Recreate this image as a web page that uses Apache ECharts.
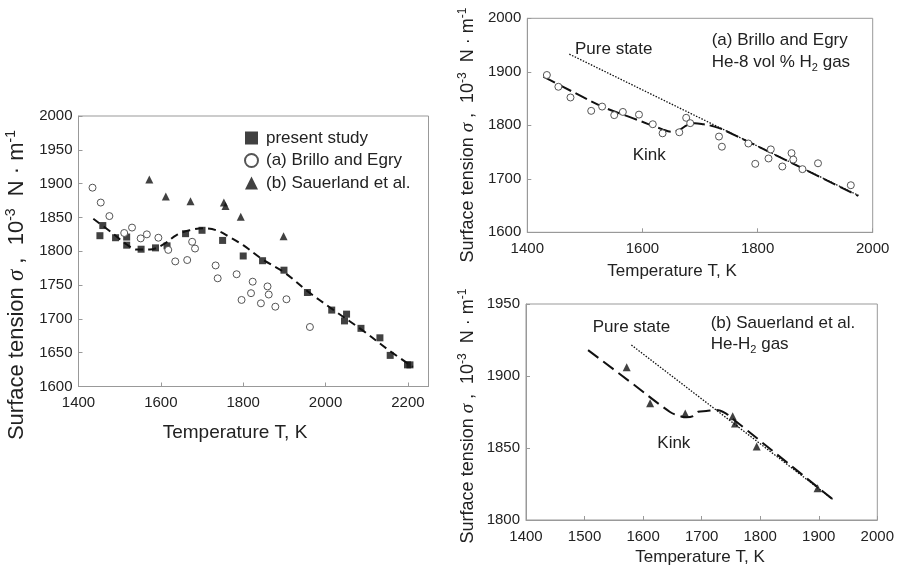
<!DOCTYPE html>
<html>
<head>
<meta charset="utf-8">
<script src="https://cdn.jsdelivr.net/npm/echarts@6/dist/echarts.min.js"></script>
<style>html,body{margin:0;padding:0;background:#fff;}#c{width:897px;height:568px;}</style>
</head>
<body>
<div id="c"></div>
<script>
// ---------- data ----------
var presentT     = [1452,1459,1490,1517,1517,1552,1587,1615,1660,1700,1750,1800,1847,1899,1956,2015,2051,2046,2086,2132,2157,2199,2205];
var presentSigma = [1823,1838,1820,1821,1809,1803,1805,1808,1826,1831,1816,1793,1786,1772,1739,1713,1707,1697,1686,1672,1646,1632,1632];

var brilloT     = [1434,1454,1475,1511,1530,1551,1566,1594,1618,1635,1664,1676,1683,1733,1738,1784,1796,1823,1819,1843,1859,1862,1878,1905,1962];
var brilloSigma = [1894,1872,1852,1827,1835,1819,1825,1820,1802,1785,1787,1814,1804,1779,1760,1766,1728,1755,1738,1723,1748,1736,1718,1729,1688];

var sauerT     = [1572,1612,1672,1753,1757,1794,1898];
var sauerSigma = [1906,1881,1874,1872,1867,1851,1822];

var fitLeftT     = [1436,1484,1517,1541,1573,1606,1638,1670,1703,1735,1767,1800,1847,1899,1956,2015,2090,2155,2212];
var fitLeftSigma = [1848,1826,1810,1802.5,1802.5,1810,1824,1831,1834,1831,1821,1809,1788,1769,1741,1715,1683,1653,1629];

var kinkAT     = [1428,1480,1530,1584,1636,1651,1665,1677,1691,1706,1720,1740,1975];
var kinkASigma = [1891,1862,1835,1813,1792,1788,1792,1800,1804,1802,1799,1792,1668];
var pureAT     = [1473,1975];
var pureASigma = [1933,1669];

var kinkBT     = [1506,1576,1646,1663,1674,1686,1694,1708,1726,1743,1754,1925];
var kinkBSigma = [1918,1896.5,1875,1872.2,1871.3,1872.2,1875.2,1875.7,1876.4,1873.6,1870,1814];
var pureBT     = [1580,1925];
var pureBSigma = [1921.5,1814];

var xTicksLeft = [1400,1600,1800,2000,2200];

function zip(a,b){ return a.map(function(v,i){ return [v,b[i]]; }); }

// ---------- styling ----------
var FONT = 'Liberation Sans, Arial, sans-serif';
var TXT = '#222';
var FRAME = '#999';

function xAx(gi,min,max,iv,hideOdd){
  return {type:'value', gridIndex:gi, min:min, max:max, interval:iv,
    axisLine:{show:true, lineStyle:{color:FRAME,width:1}},
    axisTick:{show:true, inside:true, length:4, lineStyle:{color:FRAME}},
    splitLine:{show:false},
    axisLabel:{color:TXT, fontSize:15, fontFamily:FONT, margin:9,
      formatter:function(v){ return (hideOdd && xTicksLeft.indexOf(v)<0)?'':String(v);} }};
}
function yAx(gi,min,max,iv){
  return {type:'value', gridIndex:gi, min:min, max:max, interval:iv,
    axisLine:{show:true, lineStyle:{color:FRAME,width:1}},
    axisTick:{show:true, inside:true, length:4, lineStyle:{color:FRAME}},
    splitLine:{show:false},
    axisLabel:{color:TXT, fontSize:15, fontFamily:FONT, margin:6, formatter:function(v){return String(v);}}};
}
function sq(name,gi,data){ return {name:name,type:'scatter',xAxisIndex:gi,yAxisIndex:gi,data:data,symbol:'rect',symbolSize:7,itemStyle:{color:'#111'},z:3}; }
function ci(name,gi,data){ return {name:name,type:'scatter',xAxisIndex:gi,yAxisIndex:gi,data:data,symbol:'circle',symbolSize:7,itemStyle:{color:'#fff',borderColor:'#555',borderWidth:1,opacity:1},z:3}; }
function tr(name,gi,data,sz){ return {name:name,type:'scatter',xAxisIndex:gi,yAxisIndex:gi,data:data,symbol:'triangle',symbolSize:sz||7,itemStyle:{color:'#111'},z:3}; }
function ln(gi,data,type,w,smooth){ return {type:'line',xAxisIndex:gi,yAxisIndex:gi,data:data,symbol:'none',smooth:smooth||0,lineStyle:{color:'#111',width:w,type:type},z:2,silent:true}; }

function yTitle(x,y,fs){
  var ps = Math.round(fs*0.65);
  return {type:'text', x:x, y:y, rotation:Math.PI/2, silent:true,
    style:{text:'{n|Surface tension }{s|σ}{n| ,  10}{p|-3}{n|  N · m}{p|-1}', align:'center', verticalAlign:'middle', fill:TXT,
      rich:{
        n:{fontSize:fs, fontFamily:FONT, lineHeight:fs+4, fill:TXT},
        s:{fontSize:fs+1, fontFamily:'Liberation Serif, serif', fontStyle:'italic', lineHeight:fs+4, fill:TXT},
        p:{fontSize:ps, fontFamily:FONT, lineHeight:ps+2, verticalAlign:'top', fill:TXT}
      }}};
}
function label(x,y,text,fs,align){
  return {type:'text', x:x, y:y, silent:true, style:{text:text, fontSize:fs, fontFamily:FONT, fill:TXT, align:align||'left', verticalAlign:'middle'}};
}
function labelH2(x,y,pre,post,fs){
  return {type:'text', x:x, y:y, silent:true,
    style:{text:'{n|'+pre+'}{b|2}{n|'+post+'}', align:'left', verticalAlign:'middle', fill:TXT,
      rich:{ n:{fontSize:fs, fontFamily:FONT, lineHeight:fs+5, fill:TXT},
             b:{fontSize:Math.round(fs*0.62), fontFamily:FONT, lineHeight:Math.round(fs*0.62)+2, verticalAlign:'bottom', fill:TXT} }}};
}

var chart = echarts.init(document.getElementById('c'), null, {renderer:'canvas'});
chart.setOption({
  animation:false,
  backgroundColor:'#fff',
  grid:[
    {left:78.5, top:116, width:350, height:270.5, show:true, borderColor:FRAME, borderWidth:1, backgroundColor:'transparent'},
    {left:527.3, top:18.3, width:345.4, height:214, show:true, borderColor:FRAME, borderWidth:1, backgroundColor:'transparent'},
    {left:526, top:304, width:351.3, height:216, show:true, borderColor:FRAME, borderWidth:1, backgroundColor:'transparent'}
  ],
  xAxis:[ xAx(0,1400,2250,200,true), xAx(1,1400,2000,200,false), xAx(2,1400,2000,100,false) ],
  yAxis:[ yAx(0,1600,2000,50), yAx(1,1600,2000,100), yAx(2,1800,1950,50) ],
  legend:{
    data:['present study','(a) Brillo and Egry','(b) Sauerland et al.'],
    orient:'vertical', left:239, top:124, itemWidth:13, itemHeight:13, itemGap:4.5,
    selectedMode:false,
    textStyle:{fontSize:17, fontFamily:FONT, color:TXT, lineHeight:18, padding:[0,0,0,3]}
  },
  series:[
    ln(0, zip(fitLeftT,fitLeftSigma), [8,5], 2, 0.35),
    sq('present study',0,zip(presentT,presentSigma)),
    ci('(a) Brillo and Egry',0,zip(brilloT,brilloSigma)),
    tr('(b) Sauerland et al.',0,zip(sauerT,sauerSigma),8),

    ln(1, zip(pureAT,pureASigma), [1.5,1.5], 1.3, 0),
    ln(1, zip(kinkAT,kinkASigma), [13,5], 2, 0.35),
    ci('Brillo (a)',1,zip(brilloT,brilloSigma)),

    ln(2, zip(pureBT,pureBSigma), [1.5,1.5], 1.3, 0),
    ln(2, zip(kinkBT,kinkBSigma), [13,6], 2, 0.35),
    tr('Sauerland (b)',2,zip(sauerT,sauerSigma),8)
  ],
  graphic:[
    yTitle(17,285,22),
    yTitle(468,135,18),
    yTitle(468,416,18),
    label(235,433,'Temperature T, K',19,'center'),
    label(672,271,'Temperature T, K',17,'center'),
    label(700,557,'Temperature T, K',17,'center'),

    label(575,49,'Pure state',17),
    label(711.7,40,'(a) Brillo and Egry',17),
    labelH2(711.7,62,'He-8 vol % H',' gas',17),
    label(632.7,155,'Kink',17),

    label(592.7,327,'Pure state',17),
    label(710.7,323,'(b) Sauerland et al.',17),
    labelH2(710.7,344,'He-H',' gas',17),
    label(657.3,443.5,'Kink',17)
  ]
});
</script>
</body>
</html>
